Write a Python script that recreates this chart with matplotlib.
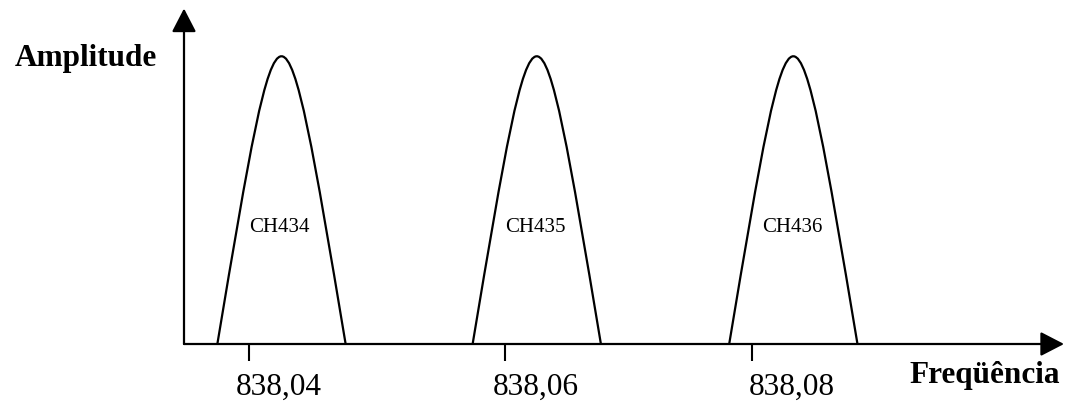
import matplotlib
matplotlib.use("Agg")
import matplotlib.pyplot as plt
from matplotlib.path import Path
from matplotlib.patches import PathPatch

plt.rcParams['font.family'] = ['Liberation Serif', 'DejaVu Serif']

# channel frequencies (MHz) and labels
freqs = [838.04, 838.06, 838.08]
freq_labels = ['838,04', '838,06', '838,08']
channels = ['CH434', 'CH435', 'CH436']

# tick marks as drawn in the sketch (a bit left of the labels)
tick_marks = [838.0377, 838.0576, 838.0769]

# peak shape: centre, half width at the base, height
peak_centers = [838.0402, 838.0601, 838.0801]
peak_halfwidth = [0.0050, 0.0050, 0.0050]
peak_height = [1.0, 1.0, 1.0]

fig = plt.figure(figsize=(10.71, 4.06), dpi=100)
ax = fig.add_axes([184 / 1071, 61 / 406, 880 / 1071, 335.5 / 406])
ax.set_xlim(838.0326, 838.1012)
ax.set_ylim(0, 1.166)

for s in ax.spines.values():
    s.set_visible(False)

# the peaks, drawn as bezier bumps
for c, w, h in zip(peak_centers, peak_halfwidth, peak_height):
    verts = [(c - w, 0), (c, h * 4 / 3), (c, h * 4 / 3), (c + w, 0)]
    codes = [Path.MOVETO, Path.CURVE4, Path.CURVE4, Path.CURVE4]
    ax.add_patch(PathPatch(Path(verts, codes), facecolor='none',
                           edgecolor='black', lw=1.6, clip_on=False))

for f, name in zip(freqs, channels):
    ax.text(f, 0.394, name, ha='center', va='baseline', fontsize=15)

# axes with arrow heads
arrow = dict(arrowstyle='-|>,head_length=1.45,head_width=0.75', lw=1.6,
             color='black', shrinkA=0, shrinkB=0, mutation_scale=10)
ax.annotate('', xy=(1, 0), xytext=(0, 0), xycoords='axes fraction', arrowprops=arrow)
ax.annotate('', xy=(0, 1), xytext=(0, 0), xycoords='axes fraction', arrowprops=arrow)

ax.set_yticks([])
ax.set_xticks(tick_marks, [])
ax.set_xticks(freqs, freq_labels, minor=True)
ax.tick_params(axis='x', which='major', length=12, width=1.5, direction='out')
ax.tick_params(axis='x', which='minor', length=0, pad=20, labelsize=22.5)

ax.set_ylabel('Amplitude', rotation=0, ha='right', va='baseline',
              fontsize=22.5, fontweight='bold')
ax.yaxis.set_label_coords(-0.0307, 0.8325)
ax.set_xlabel('Freqüência', ha='right', va='baseline', fontsize=22.5, fontweight='bold')
ax.xaxis.set_label_coords(0.9955, -0.1142)

fig.savefig('out.png', dpi=100)
